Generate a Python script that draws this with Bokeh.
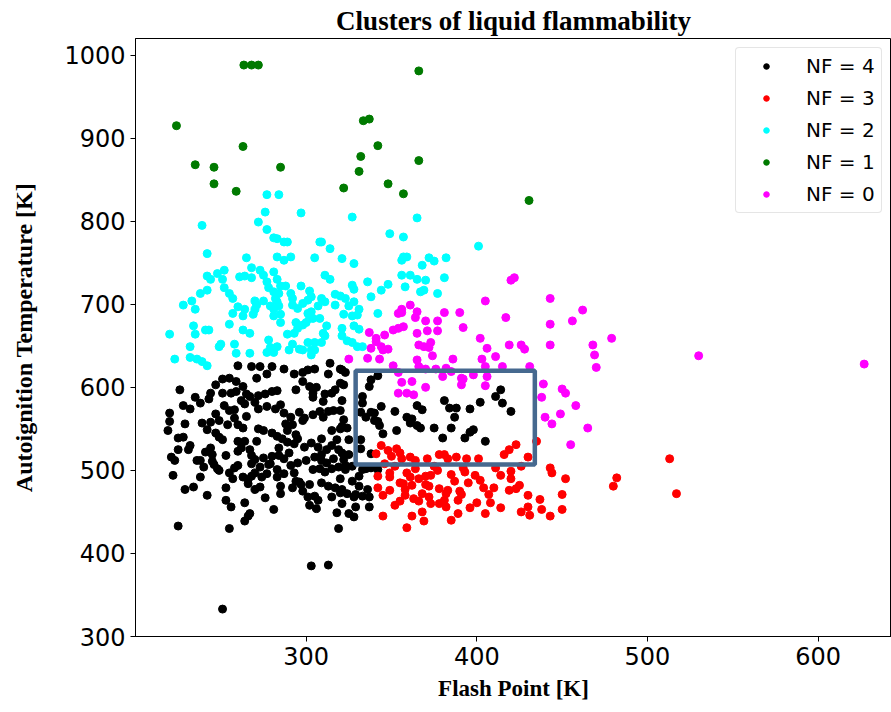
from bokeh.plotting import figure
from bokeh.models import FixedTicker, Range1d
from bokeh.embed import file_html
from bokeh.resources import INLINE

# ---------------- data (Flash Point [K], Autoignition Temperature [K]) ----------------
nf4_fp = [260, 268, 273, 280, 287, 271, 277, 293, 298, 301, 305, 314, 313, 320, 320, 251, 255, 259, 247, 263,
          244, 243, 235, 238, 251, 256, 259, 265, 267, 272, 276, 280, 283, 270, 264, 258, 255, 226, 228, 232,
          220, 220, 219, 229, 225, 228, 225, 231, 221, 223, 222, 229, 234, 225, 239, 244, 247, 249, 254, 258,
          260, 263, 265, 272, 277, 282, 285, 287, 291, 296, 299, 304, 308, 310, 313, 316, 320, 321, 311, 315,
          304, 302, 294, 298, 306, 242, 247, 249, 251, 260, 264, 262, 267, 271, 272, 275, 280, 283, 286, 289,
          293, 295, 292, 288, 299, 303, 307, 309, 315, 318, 321, 324, 325, 315, 312, 309, 244, 245, 238, 240,
          245, 248, 253, 255, 258, 260, 260, 268, 270, 275, 273, 278, 280, 284, 287, 291, 295, 300, 305, 309,
          312, 316, 321, 325, 238, 249, 257, 263, 266, 268, 270, 274, 277, 283, 283, 287, 293, 294, 297, 302,
          304, 308, 311, 315, 319, 323, 327, 253, 266, 270, 273, 285, 292, 298, 301, 305, 309, 313, 317, 320,
          324, 328, 315, 321, 256, 264, 266, 267, 264, 281, 285, 302, 306, 307, 318, 319, 255,
          303, 313, 251, 328,
          321, 323, 322, 322, 320, 319, 322, 323, 320, 327, 321, 329, 329, 333, 331, 336, 325, 331, 333, 335,
          338, 342, 337, 337, 332, 332, 338,
          342, 338, 337, 333, 333, 332, 335, 338, 340, 344, 340, 342, 343, 345, 352, 353, 359, 362, 361, 365,
          367, 365, 368, 375, 381, 384, 388, 387, 385, 380, 393, 396, 398, 396, 402, 405, 411, 414, 415, 420,
          236, 241, 246, 289, 294, 298, 252, 262, 304, 310, 317, 279, 284, 290, 232, 296, 276, 268, 253, 242]
nf4_ait = [626, 625, 625, 625, 622, 611, 616, 616, 618, 621, 622, 629, 616, 622, 605, 610, 611, 607, 603, 601,
           593, 586, 588, 581, 593, 593, 595, 592, 589, 590, 592, 595, 596, 582, 580, 573, 572, 597, 578, 574,
           569, 559, 548, 556, 539, 540, 525, 525, 516, 512, 494, 477, 480, 433, 557, 558, 568, 560, 555, 563,
           555, 551, 565, 574, 577, 574, 579, 569, 564, 570, 563, 567, 571, 564, 571, 572, 572, 584, 592, 593,
           588, 601, 597, 607, 600, 549, 545, 540, 537, 535, 535, 527, 525, 535, 550, 548, 545, 541, 538, 534,
           532, 538, 555, 556, 528, 533, 528, 538, 548, 537, 553, 551, 537, 530, 525, 519, 527, 519, 512, 504,
           511, 502, 518, 497, 503, 506, 523, 518, 513, 515, 504, 507, 517, 518, 514, 506, 509, 512, 516, 512,
           509, 514, 521, 519, 492, 500, 490, 492, 489, 493, 497, 492, 496, 501, 492, 496, 497, 487, 483, 483,
           501, 502, 498, 502, 504, 506, 505, 479, 484, 477, 480, 481, 479, 475, 468, 469, 485, 481, 479, 473,
           472, 468, 468, 460, 456, 461, 445, 448, 439, 453, 472, 458, 454, 464, 449, 430, 430,
           385, 386, 333, 444,
           621, 618, 603, 561, 550, 525, 513, 501, 490, 487, 477, 471, 456, 469, 481, 477, 448, 493, 501, 502,
           503, 501, 468, 456, 537, 526, 520,
           614, 609, 601, 589, 581, 570, 564, 570, 569, 577, 560, 559, 554, 544, 571, 548, 564, 562, 557, 554,
           551, 578, 573, 551, 584, 575, 575, 564, 551, 539, 539, 546, 549, 574, 582, 535, 589, 597, 581, 571,
           512, 522, 507, 548, 543, 560, 578, 584, 593, 583, 597, 508, 527, 521, 530, 486, 467, 508, 464, 470]

nf3_fp = [344, 341, 348, 353, 355, 350, 356, 361, 364, 371, 378, 381, 383, 388, 394, 401, 416, 419, 423, 430,
          435, 342, 349, 349, 359, 361, 364, 370, 373, 377, 385, 393, 399, 411, 414, 420, 426, 443, 444, 452,
          342, 349, 357, 358, 362, 370, 372, 378, 382, 383, 390, 391, 404, 407, 410, 419, 423, 425, 450, 352,
          355, 363, 366, 372, 373, 381, 382, 389, 400, 408, 414, 426, 430, 431, 438, 443, 450, 345, 359, 368,
          369, 389, 513, 482, 480, 517,
          346, 352, 358, 366, 375, 387, 395, 402, 378, 385, 396, 405, 420, 430, 437, 362, 355, 345, 368, 392]
nf3_ait = [530, 520, 524, 526, 521, 517, 514, 516, 512, 514, 519, 519, 514, 516, 514, 514, 519, 525, 531, 516,
           535, 493, 492, 497, 497, 492, 502, 493, 494, 500, 495, 498, 494, 503, 494, 499, 505, 503, 497, 490,
           479, 476, 484, 477, 482, 483, 481, 478, 472, 476, 475, 471, 479, 471, 479, 476, 478, 482, 471, 458,
           463, 466, 463, 468, 460, 464, 456, 464, 461, 461, 455, 450, 456, 446, 453, 445, 453, 445, 431, 450,
           439, 448, 514, 491, 481, 472,
           508, 505, 470, 490, 505, 487, 485, 488, 460, 440, 455, 448, 490, 470, 465, 445, 485, 470, 472, 503]

nf2_fp = [277, 284, 239, 276, 297, 327, 272, 277, 281, 283, 287, 289, 308, 309, 314, 349, 242, 265, 283, 287,
          291, 305, 321, 328, 252, 248, 242, 244, 251, 261, 264, 268, 268, 273, 275, 281, 283, 277, 278, 285,
          288, 311, 314, 327, 328, 336, 348, 344, 242, 238, 252, 255, 257, 233, 228, 235, 270, 275, 281, 284,
          282, 283, 279, 281, 284, 291, 292, 292, 295, 297, 302, 303, 301, 298, 309, 311, 307, 317, 320, 323,
          317, 325, 328, 331, 260, 264, 270, 271, 257, 263, 269, 281, 285, 285, 294, 298, 301, 303, 304, 308,
          302, 300, 322, 327, 330, 328, 331, 342, 234, 235, 241, 243, 220, 255, 263, 267, 289, 293, 295, 312,
          310, 311, 321, 321, 324, 327, 330, 333, 232, 249, 250, 258, 278, 279, 283, 281, 277, 290, 292, 296,
          298, 301, 305, 309, 303, 305, 303, 223, 232, 236, 239, 242, 259, 267,
          365, 357, 401, 357, 359, 356, 368, 372, 375, 382, 356, 361, 365, 370, 381, 338, 358, 369, 367, 377]
nf2_ait = [832, 832, 795, 811, 810, 805, 799, 790, 780, 779, 775, 775, 775, 775, 767, 785, 761, 756, 757, 753,
           757, 756, 755, 749, 741, 737, 734, 730, 730, 733, 734, 732, 744, 741, 735, 739, 730, 727, 720, 722,
           722, 735, 730, 723, 718, 727, 724, 717, 717, 713, 720, 713, 707, 704, 699, 694, 704, 704, 715, 713,
           707, 703, 698, 694, 698, 713, 707, 699, 695, 722, 716, 709, 705, 701, 707, 703, 698, 712, 710, 707,
           699, 698, 703, 694, 697, 694, 694, 699, 689, 686, 688, 686, 688, 678, 678, 675, 689, 691, 683, 683,
           683, 678, 688, 686, 687, 674, 670, 689, 674, 664, 669, 669, 664, 676, 669, 665, 664, 665, 671, 674,
           665, 662, 671, 662, 656, 654, 649, 649, 649, 649, 652, 652, 657, 648, 649, 642, 642, 645, 652, 646,
           645, 654, 654, 654, 645, 645, 639, 634, 636, 634, 631, 626, 641, 641,
           804, 781, 770, 757, 757, 753, 747, 756, 752, 756, 735, 735, 730, 729, 732, 709, 721, 717, 715, 713]

nf1_fp = [263.5, 268, 272, 366, 224, 263, 235, 246, 246, 259, 285, 333.5, 337, 342, 332, 331, 322, 348, 357, 366,
          430.6]
nf1_ait = [988, 988, 988, 981, 915, 890, 868, 865, 845, 836, 865, 921, 923, 891, 878, 860, 840, 845, 833, 873,
           825]

nf0_fp = [420, 422, 405, 443, 462, 456, 417, 443, 479, 361, 356, 354, 356, 365, 364, 370, 381, 390, 377, 392,
          371, 377, 365, 351, 357, 354, 337, 341, 346, 341, 338, 344, 345, 348, 366, 369, 373, 372, 402, 406,
          419, 426, 428, 443, 468, 469, 470, 325, 336, 343, 374, 386, 403, 411, 365, 366, 351, 354, 370, 376,
          382, 405, 415, 431, 380, 385, 391, 391, 392, 398, 406, 405, 356, 362, 370, 354, 359, 363, 439, 438,
          450, 452, 458, 530, 440, 444, 449, 465, 455, 627]
nf0_ait = [729, 732, 704, 707, 693, 680, 684, 676, 659, 699, 694, 689, 690, 691, 684, 680, 690, 690, 680, 672,
           668, 668, 665, 669, 673, 671, 666, 659, 663, 655, 647, 649, 645, 646, 651, 649, 654, 648, 659, 647,
           651, 651, 646, 651, 651, 639, 624, 634, 635, 634, 638, 634, 634, 637, 633, 625, 626, 618, 622, 622,
           623, 625, 625, 625, 613, 619, 611, 603, 610, 615, 613, 602, 606, 607, 600, 593, 593, 591, 604, 588,
           598, 593, 578, 638, 564, 556, 568, 551, 531, 628]

highlight_fp = [329, 434]
highlight_ait = [507, 620]

series = [
    ("NF = 4", nf4_fp, nf4_ait, "black"),
    ("NF = 3", nf3_fp, nf3_ait, "#ff0000"),
    ("NF = 2", nf2_fp, nf2_ait, "#00ffff"),
    ("NF = 1", nf1_fp, nf1_ait, "#007a00"),
    ("NF = 0", nf0_fp, nf0_ait, "#ff00ff"),
]
x_ticks = [300, 400, 500, 600]
y_ticks = [300, 400, 500, 600, 700, 800, 900, 1000]

# ---------------- figure ----------------
p = figure(width=891, height=710, x_range=Range1d(200, 643), y_range=Range1d(300, 1020),
           output_backend="svg", toolbar_location=None,
           min_border_left=135, min_border_right=0, min_border_top=38, min_border_bottom=74)

for label, xs, ys, col in series:
    p.scatter(xs, ys, size=8, fill_color=col, line_color=col, legend_label=label)

p.quad(left=[highlight_fp[0]], right=[highlight_fp[1]], bottom=[highlight_ait[0]], top=[highlight_ait[1]],
       fill_alpha=0, line_color="#46698f", line_width=4.5)

p.title.text = "Clusters of liquid flammability"
p.title.align = "center"
p.title.text_font = "Liberation Serif"
p.title.text_font_size = "27px"
p.title.text_font_style = "bold"
p.title.text_color = "black"
p.title.standoff = 6

p.xaxis.axis_label = "Flash Point [K]"
p.yaxis.axis_label = "Autoignition Temperature [K]"
for ax in (p.xaxis[0], p.yaxis[0]):
    ax.axis_label_text_font = "Liberation Serif"
    ax.axis_label_text_font_style = "bold"
    ax.axis_label_text_color = "black"
    ax.major_label_text_font = "DejaVu Sans"
    ax.major_label_text_font_size = "24px"
    ax.major_label_text_color = "black"
    ax.major_tick_out = 5
    ax.major_tick_in = 0
    ax.minor_tick_out = 0
    ax.minor_tick_in = 0
    ax.axis_line_color = "black"
    ax.major_tick_line_color = "black"
p.xaxis.axis_label_text_font_size = "23px"
p.yaxis.axis_label_text_font_size = "24px"
p.xaxis.ticker = FixedTicker(ticks=x_ticks)
p.yaxis.ticker = FixedTicker(ticks=y_ticks)
p.xaxis.axis_label_standoff = 8
p.yaxis.axis_label_standoff = 24
p.grid.visible = False
p.outline_line_color = "black"

lg = p.legend[0]
lg.location = (600, 423)
lg.label_text_font = "DejaVu Sans"
lg.label_text_font_size = "20px"
lg.label_text_color = "black"
lg.glyph_width = 48
lg.glyph_height = 14
lg.label_height = 20
lg.label_standoff = 16
lg.spacing = 8
lg.padding = 6
lg.border_line_color = "#cccccc"
lg.background_fill_alpha = 0.8
try:
    lg.border_radius = 4
except Exception:
    pass

open("out.html", "w").write(file_html(p, INLINE))
